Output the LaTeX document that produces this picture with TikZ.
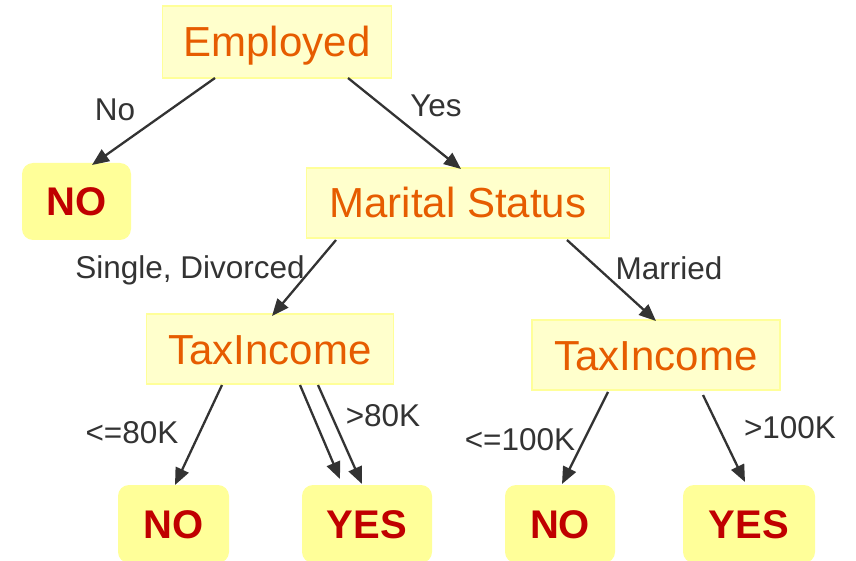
\documentclass[tikz,border=0pt]{standalone}
\usepackage{fontspec}
\setmainfont{Liberation Sans}
\usetikzlibrary{arrows.meta}
\definecolor{inner}{HTML}{FFFFCC}
\definecolor{innerline}{HTML}{FFFF99}
\definecolor{leaf}{HTML}{FFFF99}
\definecolor{orangetxt}{HTML}{E65C00}
\definecolor{redtxt}{HTML}{C00000}
\definecolor{edge}{HTML}{333333}
\tikzset{
  testbox/.style={draw=innerline, line width=1.5pt, fill=inner, text=orangetxt,
    font=\fontsize{42}{48}\selectfont, inner sep=0pt, minimum height=70pt,
    text height=32pt, text depth=2pt},
  leafbox/.style={fill=leaf, rounded corners=11pt, text=redtxt,
    font=\fontsize{40}{46}\selectfont\bfseries, inner sep=0pt,
    text height=30pt, text depth=1pt},
  conn/.style={draw=edge, line width=2.3pt, -{Triangle[length=17pt,width=14pt]}},
  lab/.style={text=edge, font=\fontsize{31.5}{36}\selectfont, inner sep=0pt}
}
\begin{document}
\begin{tikzpicture}[x=1pt,y=-1pt]
\useasboundingbox (0,0) rectangle (856,561);
% test nodes
\node[testbox, minimum width=229pt, minimum height=72pt] (emp) at (277,42) {Employed};
\node[testbox, minimum width=303pt] (mar) at (458,203) {Marital Status};
\node[testbox, minimum width=247pt] (taxl) at (270,349) {TaxIncome};
\node[testbox, minimum width=248pt] (taxr) at (656,355) {TaxIncome};
% leaves
\node[leafbox, minimum width=109pt, minimum height=77pt] (no1) at (76.5,201.5) {NO};
\node[leafbox, minimum width=111pt, minimum height=78pt] (no2) at (173.5,524) {NO};
\node[leafbox, minimum width=130pt, minimum height=78pt] (yes1) at (367,524) {YES};
\node[leafbox, minimum width=110pt, minimum height=78pt] (no3) at (560,524) {NO};
\node[leafbox, minimum width=132pt, minimum height=78pt] (yes2) at (749,524) {YES};
% connector endpoints
\coordinate (e1s) at (215,78);   \coordinate (e1t) at (92,165);
\coordinate (e2s) at (348,78);   \coordinate (e2t) at (461,169);
\coordinate (e3s) at (336,240);  \coordinate (e3t) at (272,316);
\coordinate (e4s) at (567,240);  \coordinate (e4t) at (656,321);
\coordinate (e5s) at (222,385);  \coordinate (e5t) at (175,485);
\coordinate (e6s) at (300,385);  \coordinate (e6t) at (340,479);
\coordinate (e7s) at (318,385);  \coordinate (e7t) at (362,484);
\coordinate (e8s) at (608,392);  \coordinate (e8t) at (562,484);
\coordinate (e9s) at (703,395);  \coordinate (e9t) at (745,482);
\draw[conn] (e1s) -- (e1t);
\draw[conn] (e2s) -- (e2t);
\draw[conn] (e3s) -- (e3t);
\draw[conn] (e4s) -- (e4t);
\draw[conn] (e5s) -- (e5t);
\draw[conn] (e6s) -- (e6t);
\draw[conn] (e7s) -- (e7t);
\draw[conn] (e8s) -- (e8t);
\draw[conn] (e9s) -- (e9t);
% labels
\node[lab] (l1) at (115,110) {No};
\node[lab] (l2) at (436,106) {Yes};
\node[lab] (l3) at (190,270) {Single, Divorced};
\node[lab] (l4) at (669,268) {Married};
\node[lab] (l5) at (132,433) {<=80K};
\node[lab] (l6) at (383,416) {>80K};
\node[lab] (l7) at (520,440) {<=100K};
\node[lab] (l8) at (790,428) {>100K};
\end{tikzpicture}
\end{document}
